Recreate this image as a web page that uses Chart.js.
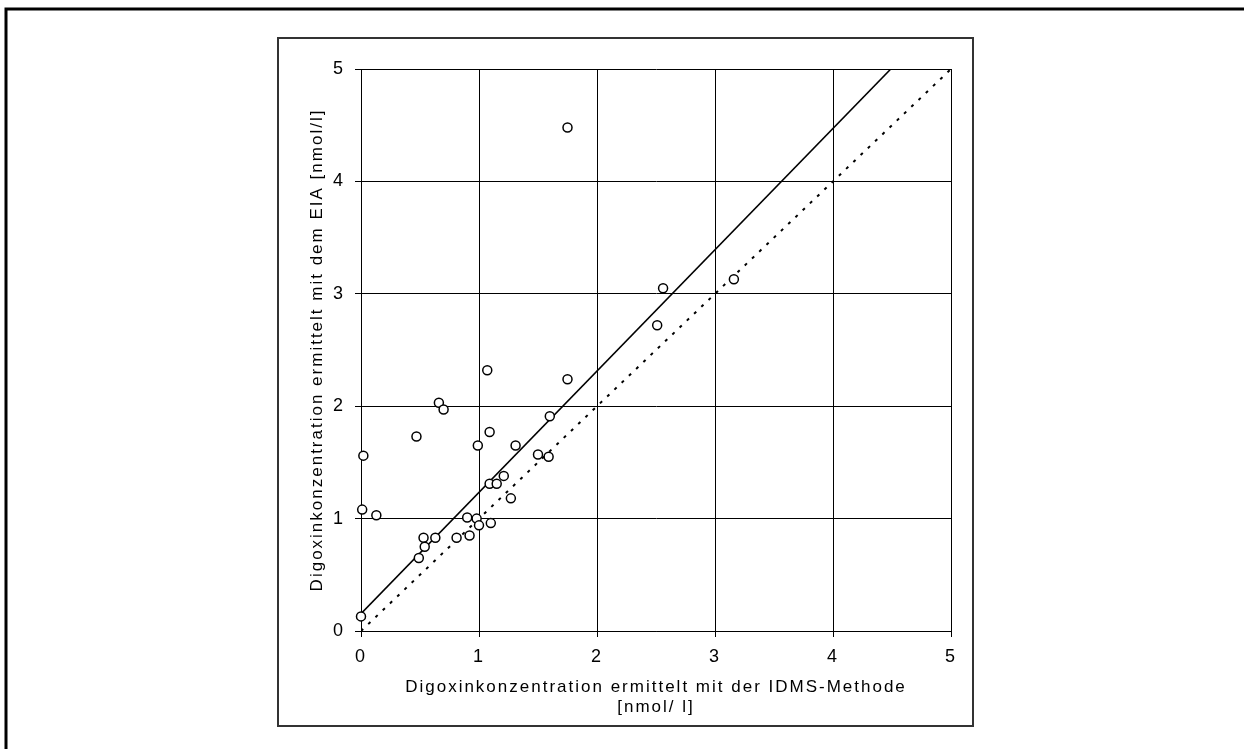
<!DOCTYPE html>
<html>
<head>
<meta charset="utf-8">
<script src="https://cdn.jsdelivr.net/npm/chart.js@4/dist/chart.umd.min.js"></script>
<style>
    body { margin: 0; background: #fff; }
    canvas { display: block; }
</style>
</head>
<body>
<canvas id="digoxinChart" width="1244" height="749"></canvas>
<script>
// IDMS (x) vs EIA (y), nmol/l
const idmsValues = [0.02, 0.01, 0.13, 0.00, 0.47, 0.66, 0.70, 0.53, 0.54, 0.49, 0.63, 0.81, 0.92,
    0.90, 0.98, 1.00, 1.10, 0.99, 1.07, 1.09, 1.09, 1.15, 1.21, 1.27, 1.31, 1.50, 1.59, 1.60,
    1.75, 1.75, 2.51, 2.56, 3.16];
const eiaValues = [1.56, 1.08, 1.03, 0.13, 1.73, 2.03, 1.97, 0.83, 0.75, 0.65, 0.83, 0.83, 0.85,
    1.01, 1.00, 0.94, 0.96, 1.65, 2.32, 1.77, 1.31, 1.31, 1.38, 1.18, 1.65, 1.57, 1.55, 1.91,
    2.24, 4.48, 2.72, 3.05, 3.13];

// regression line and the line of identity (end points)
const fitX = [0, 4.49];
const fitY = [0.155, 5];
const identityX = [0, 5];
const identityY = [0, 5];

const tickValues = [0, 1, 2, 3, 4, 5];
const xTitle = ["Digoxinkonzentration ermittelt mit der IDMS-Methode", "[nmol/ l]"];
const yTitle = "Digoxinkonzentration ermittelt mit dem EIA [nmol/l]";

const toPoints = (xs, ys) => xs.map((x, i) => ({ x: x, y: ys[i] }));

const fontFamily = "'Liberation Sans', Arial, sans-serif";

// frames round the chart, plus wider letter spacing for the axis titles
const framePlugin = {
    id: "frames",
    beforeDraw(chart) {
        const c = chart.ctx;
        c.save();
        c.strokeStyle = "#000";
        c.lineWidth = 3;
        c.strokeRect(6, 9, 1260, 760);
        c.strokeStyle = "#333";
        c.lineWidth = 2;
        c.strokeRect(278, 38, 695, 688);
        c.restore();
        c.letterSpacing = "2px";
    },
    beforeDatasetsDraw(chart) {
        chart.ctx.letterSpacing = "0px";
    }
};

const ctx = document.getElementById("digoxinChart").getContext("2d");

new Chart(ctx, {
    type: "scatter",
    data: {
        datasets: [{
            label: "Proben",
            data: toPoints(idmsValues, eiaValues),
            pointStyle: "circle",
            pointRadius: 4.5,
            pointBorderWidth: 1.5,
            borderColor: "#000",
            backgroundColor: "#fff",
            showLine: false,
            clip: false
        }, {
            label: "Regression",
            data: toPoints(fitX, fitY),
            showLine: true,
            borderColor: "#000",
            borderWidth: 1.6,
            pointRadius: 0
        }, {
            label: "y = x",
            data: toPoints(identityX, identityY),
            showLine: true,
            borderColor: "#000",
            borderWidth: 2,
            borderDash: [3, 7],
            pointRadius: 0
        }]
    },
    options: {
        responsive: false,
        devicePixelRatio: 1,
        animation: false,
        layout: {
            padding: { left: 278, right: 293, top: 69, bottom: 18 }
        },
        plugins: {
            legend: { display: false },
            tooltip: { enabled: false }
        },
        scales: {
            x: {
                type: "linear",
                min: 0,
                max: 5,
                afterBuildTicks: (scale) => { scale.ticks = tickValues.map(v => ({ value: v })); },
                afterFit: (scale) => { scale.height = 100; },
                ticks: { color: "#000", padding: 9, font: { family: fontFamily, size: 18 } },
                grid: { color: "#000", lineWidth: 1, tickLength: 6 },
                border: { color: "#000", width: 1 },
                title: {
                    display: true,
                    text: xTitle,
                    color: "#000",
                    font: { family: fontFamily, size: 17, lineHeight: 1.15 },
                    padding: { top: 0, bottom: 14 }
                }
            },
            y: {
                type: "linear",
                min: 0,
                max: 5,
                afterBuildTicks: (scale) => { scale.ticks = tickValues.map(v => ({ value: v })); },
                afterFit: (scale) => { scale.width = 83; },
                ticks: { color: "#000", padding: 10, font: { family: fontFamily, size: 18 } },
                grid: { color: "#000", lineWidth: 1, tickLength: 6 },
                border: { color: "#000", width: 1 },
                title: {
                    display: true,
                    text: yTitle,
                    color: "#000",
                    font: { family: fontFamily, size: 17, lineHeight: 1.15 },
                    padding: { top: 30, bottom: 0 }
                }
            }
        }
    },
    plugins: [framePlugin]
});
</script>
</body>
</html>
